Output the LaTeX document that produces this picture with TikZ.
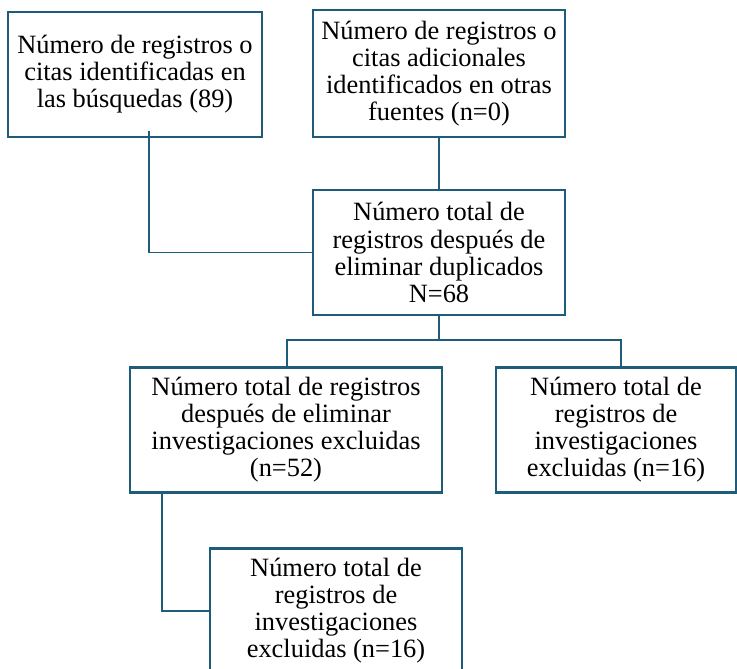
\documentclass[tikz,border=0pt]{standalone}
\usepackage{fontspec}
\setmainfont{Liberation Serif}
\newfontfamily\boxfont{Liberation Serif}
\definecolor{flowline}{RGB}{31,92,122}
\tikzset{
  recbox/.style={draw=flowline, line width=1.9pt, align=center, inner sep=0pt,
    minimum width=#1, minimum height=94pt, font=\boxfont\fontsize{19.8}{20.3}\selectfont},
  link/.style={draw=flowline, line width=1.9pt},
  thinlink/.style={draw=flowline, line width=0.8pt}
}
\begin{document}
\begin{tikzpicture}[x=0.75pt,y=-0.75pt]
\useasboundingbox (0,0) rectangle (737,668);
% identification
\node[recbox=190.5pt] (found) at (135,74.5) {Número de registros o\\citas identificadas en\\las búsquedas (89)};
\node[recbox=189pt, minimum height=95pt] (extra) at (439,73.5) {Número de registros o\\citas adicionales\\identificados en otras\\fuentes (n=0)};
% screening
\node[recbox=189pt] (nodup) at (439,252.5) {Número total de\\registros después de\\eliminar duplicados\\N=68};
\node[recbox=234pt] (kept) at (286,430) {Número total de registros\\después de eliminar\\investigaciones excluidas\\(n=52)};
\node[recbox=180pt] (excl) at (616,430) {Número total de\\registros de\\investigaciones\\excluidas (n=16)};
\node[recbox=189pt] (final) at (336,611) {Número total de\\registros de\\investigaciones\\excluidas (n=16)};
% connectors
\coordinate (foundTail) at (149,131);
\coordinate (split) at (439,341);
\coordinate (keptStem) at (162,0);
\draw[link] (extra.south) -- (nodup.north);
\draw[thinlink] (foundTail) |- (nodup.west);
\draw[link] (nodup.south) -- (split);
\draw[link] ([xshift=0.75pt]kept.north) -- ++(0,-26) -| ([xshift=3.75pt]excl.north);
\draw[link] (kept.south -| keptStem) |- (final.west);
\end{tikzpicture}
\end{document}
